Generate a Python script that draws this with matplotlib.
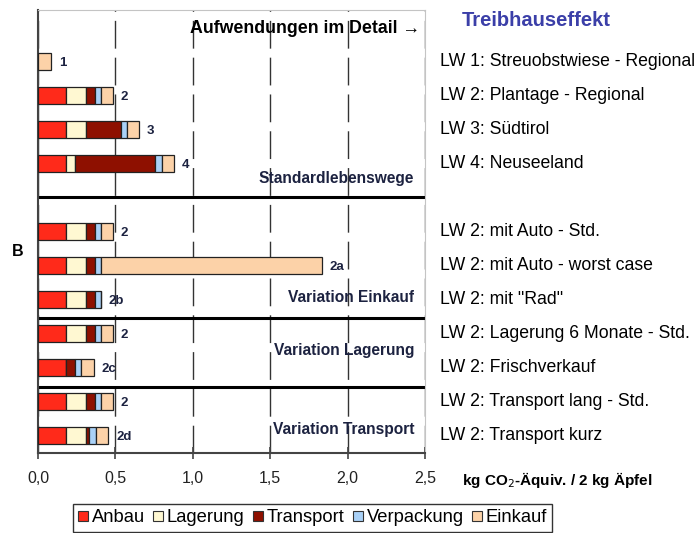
import numpy as np
import matplotlib
matplotlib.use("Agg")
import matplotlib.pyplot as plt
from matplotlib.patches import Patch

# -----------------------------
# Data (kg CO2-Aequiv. / 2 kg Aepfel)
# -----------------------------
categories = ["Anbau", "Lagerung", "Transport", "Verpackung", "Einkauf"]
colors = ["#FF2A1A", "#FFF8D2", "#8E1000", "#A9D1F7", "#FCD2A8"]

bar_labels = ["1", "2", "3", "4", "2", "2a", "2b", "2", "2c", "2", "2d"]
row_names = [
    "LW 1: Streuobstwiese - Regional",
    "LW 2: Plantage - Regional",
    "LW 3: Südtirol",
    "LW 4: Neuseeland",
    "LW 2: mit Auto - Std.",
    "LW 2: mit Auto - worst case",
    'LW 2: mit "Rad"',
    "LW 2: Lagerung 6 Monate - Std.",
    "LW 2: Frischverkauf",
    "LW 2: Transport lang - Std.",
    "LW 2: Transport kurz",
]

anbau = [0.0, 0.184, 0.184, 0.184, 0.184, 0.184, 0.184, 0.184, 0.184, 0.184, 0.184]
lagerung = [0.0, 0.124, 0.124, 0.053, 0.124, 0.124, 0.124, 0.124, 0.0, 0.124, 0.124]
transport = [0.0, 0.061, 0.231, 0.518, 0.061, 0.061, 0.061, 0.061, 0.053, 0.061, 0.022]
verpackung = [0.0, 0.037, 0.037, 0.045, 0.037, 0.037, 0.037, 0.037, 0.043, 0.037, 0.043]
einkauf = [0.085, 0.079, 0.077, 0.078, 0.079, 1.427, 0.0, 0.079, 0.082, 0.079, 0.082]

group_names = ["Standardlebenswege", "Variation Einkauf", "Variation Lagerung", "Variation Transport"]

# row positions (top to bottom), with gaps between groups
rows = np.array([0, 1, 2, 3, 5, 6, 7, 8, 9, 10, 11])
separators = [4, 7.55, 9.55]
group_label_rows = [3.45, 6.95, 8.5, 10.8]

xticks = [0.0, 0.5, 1.0, 1.5, 2.0, 2.5]
xtick_labels = ["0,0", "0,5", "1,0", "1,5", "2,0", "2,5"]

plt.rcParams["font.family"] = ["Liberation Sans", "DejaVu Sans"]

# -----------------------------
# Figure
# -----------------------------
fig = plt.figure(figsize=(6.98, 5.33), dpi=100)
ax = fig.add_axes([38 / 698, 80 / 533, 387 / 698, 443 / 533])

series = [anbau, lagerung, transport, verpackung, einkauf]
left = np.zeros(len(rows))
for vals, col, name in zip(series, colors, categories):
    vals = np.array(vals)
    ax.barh(rows, vals, left=left, height=0.5, color=col,
            edgecolor="#222222", linewidth=0.9, zorder=3)
    left = left + vals

totals = left
for r, t, lab in zip(rows, totals, bar_labels):
    ax.annotate(lab, (t, r), xytext=(5.5, -1), textcoords="offset points",
                ha="left", va="center", fontsize=9.5, fontweight="bold",
                color="#1c2240", zorder=4)

# group separators
for s in separators:
    ax.axhline(s, color="black", linewidth=2.2, zorder=2)

# group captions inside the plot
for name, gy in zip(group_names, group_label_rows):
    ax.text(2.43, gy, name, ha="right", va="center", fontsize=11.2,
            fontweight="bold", color="#1c2240", zorder=4)

ax.text(2.47, -0.97, "Aufwendungen im Detail \u2192", ha="right", va="center",
        fontsize=12.8, fontweight="bold", color="black")

# row names to the right
for r, name in zip(rows, row_names):
    ax.text(1.039, r, name, transform=ax.get_yaxis_transform(),
            ha="left", va="center", fontsize=12.7, color="black", clip_on=False)

# -----------------------------
# Axes styling
# -----------------------------
ax.set_xlim(0, 2.5)
ax.set_ylim(11.5, -1.5)
ax.set_yticks([])
ax.set_xticks(xticks)
ax.set_xticklabels(xtick_labels, fontsize=11.5, color="#222222")
ax.tick_params(axis="x", direction="inout", length=8, width=1.2,
               color="#444444", pad=9)

ax.grid(axis="x", color="#333333", linewidth=1, linestyle=(0, (20, 6.5)), zorder=1)

ax.spines["left"].set_color("#444444")
ax.spines["left"].set_linewidth(1.5)
ax.spines["bottom"].set_color("#444444")
ax.spines["bottom"].set_linewidth(1.5)
ax.spines["top"].set_color("#C4C4C4")
ax.spines["right"].set_color("#C4C4C4")

# -----------------------------
# Outside texts
# -----------------------------
fig.text(536 / 698, 1 - 20 / 533, "Treibhauseffekt", ha="center", va="center",
         fontsize=14.5, fontweight="bold", color="#3B3FA8")
fig.text(17.5 / 698, 1 - 251 / 533, "B", ha="center", va="center",
         fontsize=11.5, fontweight="bold", color="black")
fig.text(462 / 698, 1 - 480 / 533, "kg CO$_2$-Äquiv. / 2 kg Äpfel", ha="left",
         va="center", fontsize=11, fontweight="bold", color="black")

# -----------------------------
# Legend
# -----------------------------
handles = [Patch(facecolor=c, edgecolor="#333333", linewidth=0.8, label=n)
           for c, n in zip(colors, categories)]
fig.legend(handles=handles, loc="upper center",
           bbox_to_anchor=(312.5 / 698, 1 - 504 / 533),
           ncol=5, fontsize=13.2,
           frameon=True, fancybox=False, edgecolor="black",
           handlelength=0.55, handleheight=0.45, handletextpad=0.2,
           columnspacing=0.45, borderpad=0.3, borderaxespad=0)

fig.savefig("out.png", dpi=100)
